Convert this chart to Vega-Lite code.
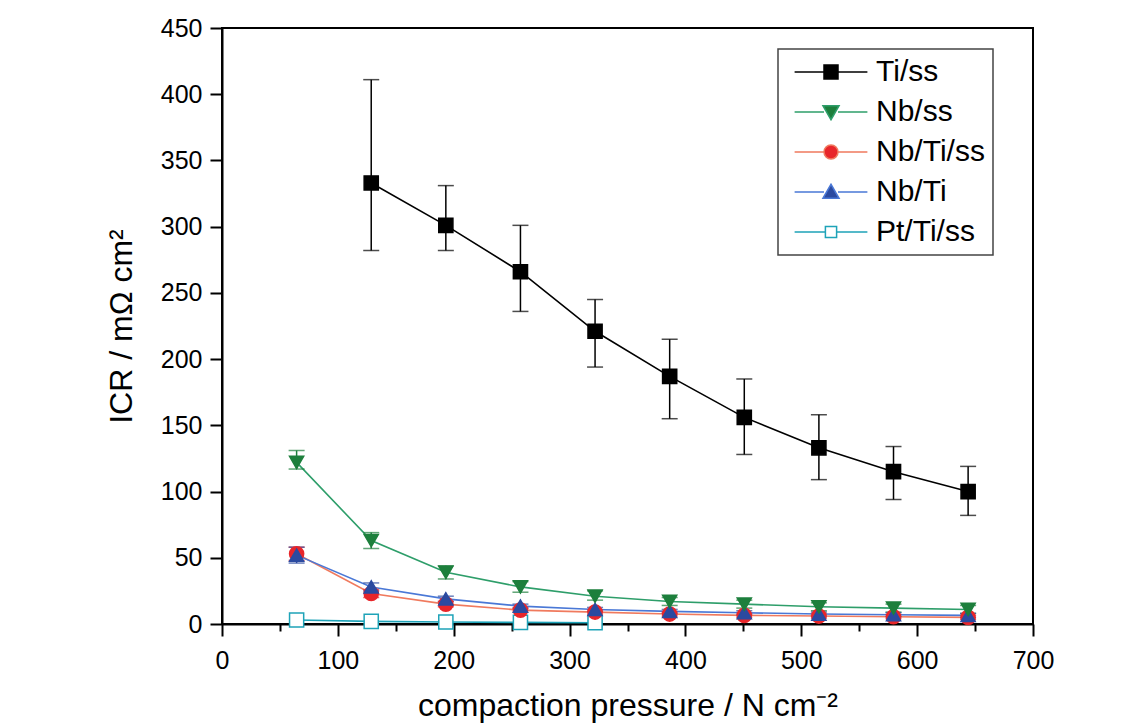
{
  "$schema": "https://vega.github.io/schema/vega-lite/v6.json",
  "autosize": {"type": "none"},
  "padding": {"left": 222, "top": 28, "right": 110, "bottom": 101},
  "width": 811,
  "height": 596,
  "background": "white",
  "config": {
    "font": "Liberation Sans",
    "view": {"stroke": "black", "strokeWidth": 2},
    "axis": {"domainColor": "black", "domainWidth": 2, "tickColor": "black", "tickWidth": 2, "labelColor": "black", "titleColor": "black", "grid": false, "labelFont": "Liberation Sans", "titleFont": "Liberation Sans", "titleFontWeight": "normal"},
    "legend": {"strokeColor": "#444444", "strokeWidth": 1.5, "fillColor": "white"}
  },
  "data": {"values": [
    {"series": "Pt/Ti/ss", "x": 64.4, "y": 3},
    {"series": "Pt/Ti/ss", "x": 128.8, "y": 2},
    {"series": "Pt/Ti/ss", "x": 193.2, "y": 1.5},
    {"series": "Pt/Ti/ss", "x": 257.6, "y": 1.2},
    {"series": "Pt/Ti/ss", "x": 322, "y": 1},
    {"series": "Nb/Ti/ss", "x": 64.4, "y": 53, "lo": 48, "hi": 58},
    {"series": "Nb/Ti/ss", "x": 128.8, "y": 23, "lo": 20, "hi": 26},
    {"series": "Nb/Ti/ss", "x": 193.2, "y": 15, "lo": 13, "hi": 17},
    {"series": "Nb/Ti/ss", "x": 257.6, "y": 10.5, "lo": 9, "hi": 12},
    {"series": "Nb/Ti/ss", "x": 322, "y": 9, "lo": 7.5, "hi": 10.5},
    {"series": "Nb/Ti/ss", "x": 386.4, "y": 7.5, "lo": 6, "hi": 9},
    {"series": "Nb/Ti/ss", "x": 450.8, "y": 6.5, "lo": 5, "hi": 8},
    {"series": "Nb/Ti/ss", "x": 515.2, "y": 6, "lo": 4.5, "hi": 7.5},
    {"series": "Nb/Ti/ss", "x": 579.6, "y": 5.5, "lo": 4, "hi": 7},
    {"series": "Nb/Ti/ss", "x": 644, "y": 5, "lo": 3.5, "hi": 6.5},
    {"series": "Nb/Ti", "x": 64.4, "y": 52, "lo": 46, "hi": 58},
    {"series": "Nb/Ti", "x": 128.8, "y": 28, "lo": 25, "hi": 31},
    {"series": "Nb/Ti", "x": 193.2, "y": 19, "lo": 17, "hi": 21},
    {"series": "Nb/Ti", "x": 257.6, "y": 13.5, "lo": 12, "hi": 15},
    {"series": "Nb/Ti", "x": 322, "y": 11, "lo": 9.5, "hi": 12.5},
    {"series": "Nb/Ti", "x": 386.4, "y": 9.5, "lo": 8, "hi": 11},
    {"series": "Nb/Ti", "x": 450.8, "y": 8.5, "lo": 7, "hi": 10},
    {"series": "Nb/Ti", "x": 515.2, "y": 7.5, "lo": 6, "hi": 9},
    {"series": "Nb/Ti", "x": 579.6, "y": 7, "lo": 5.5, "hi": 8.5},
    {"series": "Nb/Ti", "x": 644, "y": 6.5, "lo": 5, "hi": 8},
    {"series": "Nb/ss", "x": 64.4, "y": 122, "lo": 117, "hi": 131},
    {"series": "Nb/ss", "x": 128.8, "y": 63, "lo": 57, "hi": 69},
    {"series": "Nb/ss", "x": 193.2, "y": 39, "lo": 34, "hi": 44},
    {"series": "Nb/ss", "x": 257.6, "y": 28, "lo": 24, "hi": 32},
    {"series": "Nb/ss", "x": 322, "y": 21, "lo": 18, "hi": 25},
    {"series": "Nb/ss", "x": 386.4, "y": 17, "lo": 14, "hi": 20},
    {"series": "Nb/ss", "x": 450.8, "y": 15, "lo": 12, "hi": 18},
    {"series": "Nb/ss", "x": 515.2, "y": 13, "lo": 10, "hi": 16},
    {"series": "Nb/ss", "x": 579.6, "y": 12, "lo": 9, "hi": 15},
    {"series": "Nb/ss", "x": 644, "y": 11, "lo": 8, "hi": 14},
    {"series": "Ti/ss", "x": 128.8, "y": 333, "lo": 282, "hi": 411},
    {"series": "Ti/ss", "x": 193.2, "y": 301, "lo": 282, "hi": 331},
    {"series": "Ti/ss", "x": 257.6, "y": 266, "lo": 236, "hi": 301},
    {"series": "Ti/ss", "x": 322, "y": 221, "lo": 194, "hi": 245},
    {"series": "Ti/ss", "x": 386.4, "y": 187, "lo": 155, "hi": 215},
    {"series": "Ti/ss", "x": 450.8, "y": 156, "lo": 128, "hi": 185},
    {"series": "Ti/ss", "x": 515.2, "y": 133, "lo": 109, "hi": 158},
    {"series": "Ti/ss", "x": 579.6, "y": 115, "lo": 94, "hi": 134},
    {"series": "Ti/ss", "x": 644, "y": 100, "lo": 82, "hi": 119}
  ]},
  "encoding": {
    "x": {"field": "x", "type": "quantitative",
      "scale": {"domain": [0, 700], "nice": false, "zero": false},
      "axis": {"values": [0,50,100,150,200,250,300,350,400,450,500,550,600,650,700],
        "labelExpr": "datum.value % 100 === 0 ? datum.label : ''",
        "tickSize": {"condition": {"test": "datum.value % 100 === 0", "value": 12}, "value": 7},
        "labelFontSize": 25, "labelPadding": 12, "labelFlush": false,
        "title": "compaction pressure / N cm⁻²", "titleFontSize": 32, "titlePadding": 17}}
  },
  "layer": [
    {
      "mark": {"type": "line", "strokeWidth": 1.6},
      "encoding": {
        "y": {"field": "y", "type": "quantitative",
          "scale": {"domain": [0, 450], "nice": false},
          "axis": {"values": [0,25,50,75,100,125,150,175,200,225,250,275,300,325,350,375,400,425,450],
            "labelExpr": "datum.value % 50 === 0 ? datum.label : ''",
            "tickSize": {"condition": {"test": "datum.value % 50 === 0", "value": 12}, "value": 7},
            "labelFontSize": 25, "labelPadding": 8,
            "title": "ICR / mΩ cm²", "titleFontSize": 32, "titlePadding": 22}},
        "stroke": {"field": "series", "type": "nominal",
          "scale": {"domain": ["Ti/ss", "Nb/ss", "Nb/Ti/ss", "Nb/Ti", "Pt/Ti/ss"],
            "range": ["#000000", "#2e9e6a", "#f07a5e", "#4a78d6", "#1ea3b8"]},
          "legend": null}
      }
    },
    {
      "mark": {"type": "rule", "strokeWidth": 1.5},
      "encoding": {
        "y": {"field": "lo", "type": "quantitative"},
        "y2": {"field": "hi"},
        "color": {"field": "series", "type": "nominal",
          "scale": {"domain": ["Ti/ss", "Nb/ss", "Nb/Ti/ss", "Nb/Ti", "Pt/Ti/ss"],
            "range": ["#000000", "#1d7f3c", "#e8262a", "#2b4aa0", "#1ea3b8"]},
          "legend": null}
      }
    },
    {
      "mark": {"type": "tick", "orient": "horizontal", "thickness": 1.5, "size": 16},
      "encoding": {
        "y": {"field": "lo", "type": "quantitative"},
        "color": {"field": "series", "type": "nominal",
          "scale": {"domain": ["Ti/ss", "Nb/ss", "Nb/Ti/ss", "Nb/Ti", "Pt/Ti/ss"],
            "range": ["#000000", "#1d7f3c", "#e8262a", "#2b4aa0", "#1ea3b8"]},
          "legend": null}
      }
    },
    {
      "mark": {"type": "tick", "orient": "horizontal", "thickness": 1.5, "size": 16},
      "encoding": {
        "y": {"field": "hi", "type": "quantitative"},
        "color": {"field": "series", "type": "nominal",
          "scale": {"domain": ["Ti/ss", "Nb/ss", "Nb/Ti/ss", "Nb/Ti", "Pt/Ti/ss"],
            "range": ["#000000", "#1d7f3c", "#e8262a", "#2b4aa0", "#1ea3b8"]},
          "legend": null}
      }
    },
    {
      "mark": {"type": "point", "filled": false, "size": 200, "strokeWidth": 1.5, "opacity": 1},
      "encoding": {
        "y": {"field": "y", "type": "quantitative"},
        "shape": {"field": "series", "type": "nominal",
          "scale": {"domain": ["Ti/ss", "Nb/ss", "Nb/Ti/ss", "Nb/Ti", "Pt/Ti/ss"],
            "range": ["square", "triangle-down", "circle", "triangle-up", "square"]},
          "legend": null},
        "fill": {"field": "series", "type": "nominal",
          "scale": {"domain": ["Ti/ss", "Nb/ss", "Nb/Ti/ss", "Nb/Ti", "Pt/Ti/ss"],
            "range": ["#000000", "#1d7f3c", "#e8262a", "#2b4aa0", "#ffffff"]},
          "legend": null},
        "stroke": {"field": "series", "type": "nominal",
          "scale": {"domain": ["Ti/ss", "Nb/ss", "Nb/Ti/ss", "Nb/Ti", "Pt/Ti/ss"],
            "range": ["#000000", "#1d7f3c", "#e8262a", "#2b4aa0", "#1ea3b8"]},
          "legend": null}
      }
    },
    {
      "transform": [{"filter": "false"}],
      "mark": {"type": "point", "filled": true, "size": 196, "strokeWidth": 1.5},
      "encoding": {
        "y": {"field": "y", "type": "quantitative"},
        "shape": {"field": "series", "type": "nominal",
          "scale": {"domain": ["Ti/ss", "Nb/ss", "Nb/Ti/ss", "Nb/Ti", "Pt/Ti/ss"],
            "range": [
              "M-5.2,0H-1M1,0H5.2M-1,-1H1V1H-1Z",
              "M-5.2,0H-1M1,0H5.2M-1.15,-0.9H1.15L0,1.1Z",
              "M-5.2,0H-1M1,0H5.2M-1,0A1,1 0 1,0 1,0A1,1 0 1,0 -1,0Z",
              "M-5.2,0H-1M1,0H5.2M-1.15,0.9H1.15L0,-1.1Z",
              "M-5.2,0H-0.8M0.8,0H5.2M-0.8,-0.8H0.8V0.8H-0.8Z"
            ]},
          "legend": {
            "title": null, "orient": "none", "legendX": 556, "legendY": 21,
            "labelFontSize": 30, "labelFont": "Liberation Sans", "labelColor": "black",
            "symbolSize": 196, "symbolStrokeWidth": 1.5, "symbolOpacity": 1,
            "symbolOffset": 30, "labelOffset": 30, "rowPadding": 10,
            "padding": 8
          }},
        "fill": {"field": "series", "type": "nominal",
          "scale": {"domain": ["Ti/ss", "Nb/ss", "Nb/Ti/ss", "Nb/Ti", "Pt/Ti/ss"],
            "range": ["#000000", "#1d7f3c", "#e8262a", "#2b4aa0", "#ffffff"]}},
        "stroke": {"field": "series", "type": "nominal",
          "scale": {"domain": ["Ti/ss", "Nb/ss", "Nb/Ti/ss", "Nb/Ti", "Pt/Ti/ss"],
            "range": ["#000000", "#2e9e6a", "#f07a5e", "#4a78d6", "#1ea3b8"]}}
      }
    }
  ],
  "resolve": {"scale": {"stroke": "independent", "color": "independent", "fill": "independent", "shape": "independent"}}
}
